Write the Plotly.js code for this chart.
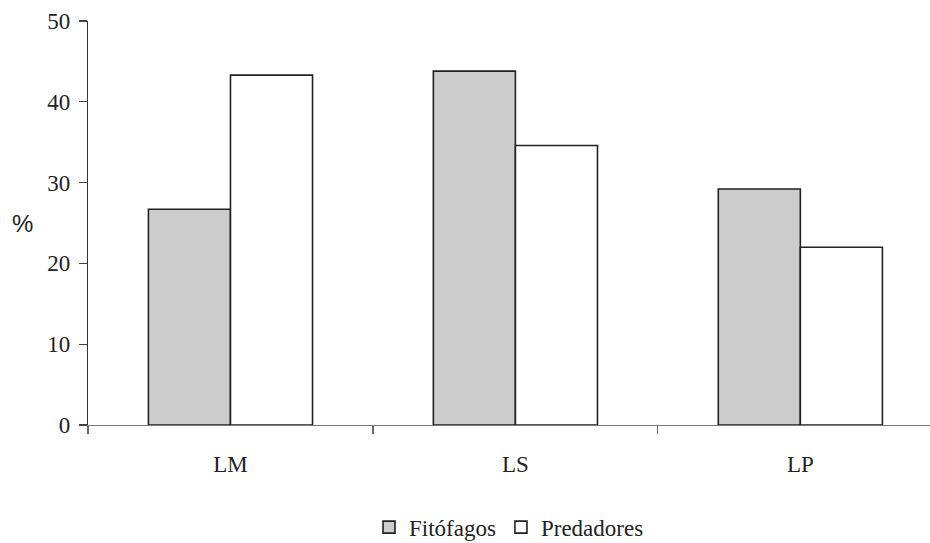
<!DOCTYPE html>
<html>
<head>
<meta charset="utf-8">
<script src="https://cdn.plot.ly/plotly-3.0.1.min.js"></script>
<style>
html,body{margin:0;padding:0;background:#fff;}
#chart{width:930px;height:543px;}
#chart svg text.serif-t, #chart .xtick text, #chart .ytick text, #chart .legendtext { font-family: "Liberation Serif", "DejaVu Serif", serif !important; }
</style>
</head>
<body>
<div id="chart"></div>
<script>
const categories = ["LM", "LS", "LP"];
const fitofagos = [26.7, 43.8, 29.2];
const predadores = [43.3, 34.6, 22.0];
const yTicks = [0, 10, 20, 30, 40, 50];

const font = {family: "Liberation Serif, DejaVu Serif, serif", size: 23, color: "#222"};

const traces = [
  {type: "bar", name: "Fitófagos", x: categories, y: fitofagos,
   marker: {color: "#cccccc", line: {color: "#222", width: 1.6}}},
  {type: "bar", name: "Predadores", x: categories, y: predadores,
   marker: {color: "#ffffff", line: {color: "#222", width: 1.6}}}
];

const layout = {
  width: 930, height: 543,
  margin: {l: 87.5, r: 0, t: 21, b: 117.5, autoexpand: false},
  paper_bgcolor: "#fff", plot_bgcolor: "#fff",
  font: font,
  barmode: "group", bargap: 0.424, bargroupgap: 0,
  showlegend: true,
  legend: {orientation: "h", x: 0.5, xanchor: "center", yref: "paper", y: -0.253, yanchor: "middle",
           font: font, tracegroupgap: 0},
  xaxis: {type: "category", range: [-0.5, 2.455], tickson: "boundaries",
          ticks: "outside", ticklen: 8, tickcolor: "#666", tickwidth: 1.2,
          showline: true, linecolor: "#777", linewidth: 1.2, showgrid: false, zeroline: false,
          ticklabelstandoff: 18, tickfont: font, fixedrange: true},
  yaxis: {range: [0, 50], tickvals: yTicks, ticktext: yTicks.map(String),
          ticks: "outside", ticklen: 8, tickcolor: "#444", tickwidth: 1.2,
          showline: true, linecolor: "#333", linewidth: 1.2, showgrid: false, zeroline: false,
          tickfont: font, ticklabelstandoff: 4},
  annotations: [{text: "%", xref: "paper", x: 0, xshift: -66, xanchor: "center",
                 yref: "paper", y: 0.5, yanchor: "middle", showarrow: false,
                 font: {family: "Liberation Sans, Arial, sans-serif", size: 24, color: "#222"}}]
};

Plotly.newPlot("chart", traces, layout, {displayModeBar: false, staticPlot: true});
</script>
</body>
</html>
